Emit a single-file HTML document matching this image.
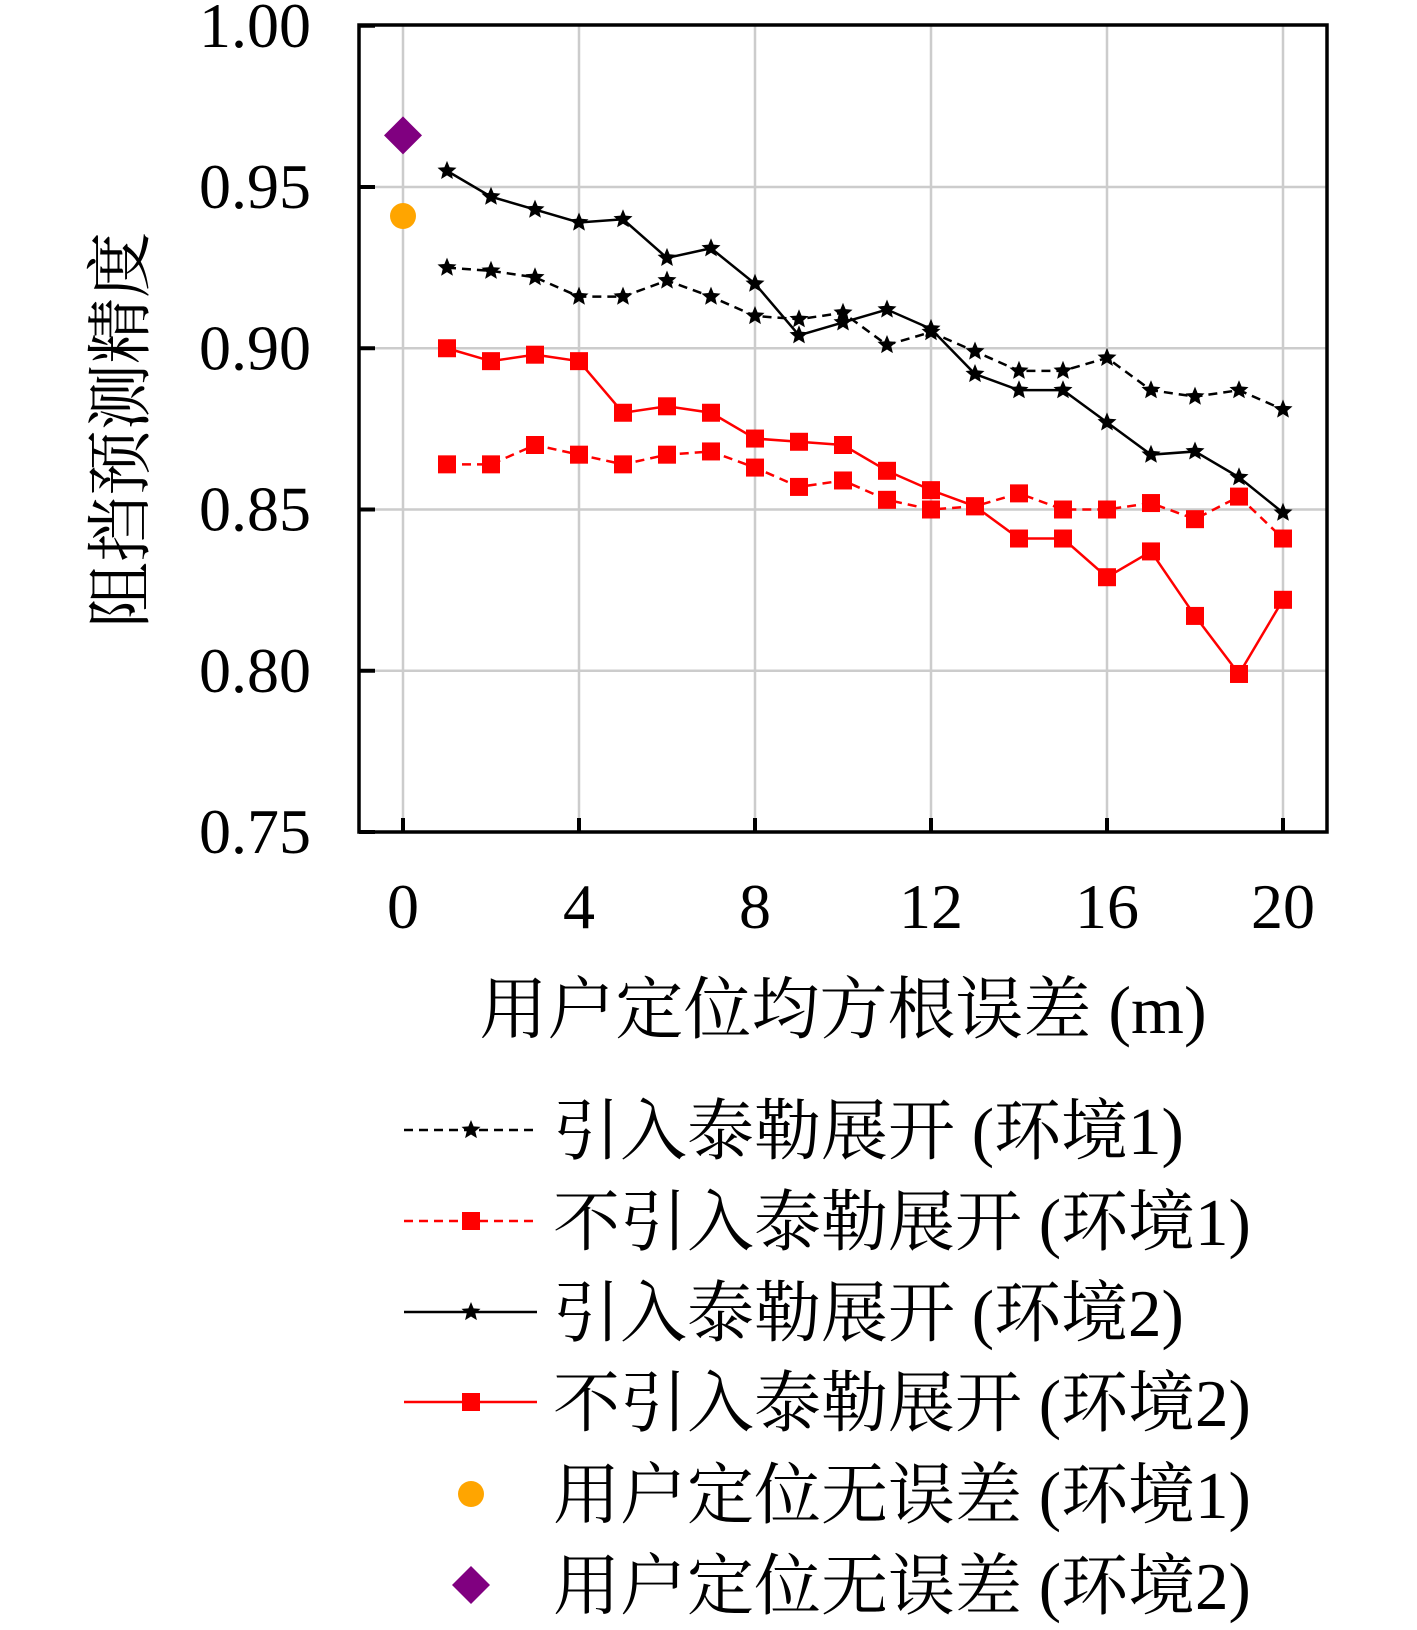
<!DOCTYPE html>
<html><head><meta charset="utf-8"><style>
html,body{margin:0;padding:0;background:#fff;}
svg{display:block;}
text{font-family:"Liberation Serif","Noto Serif CJK SC",serif;fill:#000;}
</style></head><body>
<svg id="s" width="1417" height="1630" xmlns="http://www.w3.org/2000/svg"></svg>
<script>
const s=document.getElementById('s');
const X=v=>403+v*44, Y=v=>832-(v-0.75)/0.05*161.25;
let h='';
for(let i=0;i<=20;i+=4)h+=`<line x1="${X(i)}" y1="25" x2="${X(i)}" y2="832" stroke="#ccc" stroke-width="2.5"/>`;
[0.8,0.85,0.9,0.95].forEach(v=>h+=`<line x1="359" y1="${Y(v)}" x2="1327" y2="${Y(v)}" stroke="#ccc" stroke-width="2.5"/>`);
h+=`<rect x="359" y="25" width="968" height="807" fill="none" stroke="#000" stroke-width="3.5"/>`;
for(let i=0;i<=20;i+=4){h+=`<line x1="${X(i)}" y1="832" x2="${X(i)}" y2="818" stroke="#000" stroke-width="4"/>`;
h+=`<text x="${X(i)}" y="928" font-size="64" text-anchor="middle">${i}</text>`;}
[0.75,0.8,0.85,0.9,0.95,1.0].forEach(v=>{h+=`<line x1="359" y1="${Y(v)}" x2="375" y2="${Y(v)}" stroke="#000" stroke-width="4"/>`;
h+=`<text x="311" y="${Y(v)+21}" font-size="64" text-anchor="end">${v.toFixed(2)}</text>`;});
h+=`<text x="843" y="1033" font-size="68" text-anchor="middle">用户定位均方根误差 (m)</text>`;
h+=`<text transform="translate(143,430) rotate(-90)" font-size="66" text-anchor="middle">阻挡预测精度</text>`;
const d1=[0.925,0.924,0.922,0.916,0.916,0.921,0.916,0.910,0.909,0.911,0.901,0.905,0.899,0.893,0.893,0.897,0.887,0.885,0.887,0.881];
const d2=[0.955,0.947,0.943,0.939,0.940,0.928,0.931,0.920,0.904,0.908,0.912,0.906,0.892,0.887,0.887,0.877,0.867,0.868,0.860,0.849];
const r1=[0.864,0.864,0.870,0.867,0.864,0.867,0.868,0.863,0.857,0.859,0.853,0.850,0.851,0.855,0.850,0.850,0.852,0.847,0.854,0.841];
const r2=[0.900,0.896,0.898,0.896,0.880,0.882,0.880,0.872,0.871,0.870,0.862,0.856,0.851,0.841,0.841,0.829,0.837,0.817,0.799,0.822];
function star(x,y,r){let p=[];for(let k=0;k<10;k++){const a=-Math.PI/2+k*Math.PI/5,rr=k%2?r*0.45:r;p.push((x+rr*Math.cos(a)).toFixed(1)+','+(y+rr*Math.sin(a)).toFixed(1));}return `<polygon points="${p.join(' ')}" fill="#000"/>`;}
function sq(x,y,c){return `<rect x="${x-9}" y="${y-9}" width="18" height="18" fill="${c}"/>`;}
function series(d,c,dash,m){const pts=d.map((v,i)=>X(i+1)+','+Y(v)).join(' ');
h+=`<polyline points="${pts}" fill="none" stroke="${c}" stroke-width="2.5" ${dash?'stroke-dasharray="9,6"':''}/>`;
d.forEach((v,i)=>h+=m=='s'?star(X(i+1),Y(v),10):sq(X(i+1),Y(v),c));}
series(d1,'#000',1,'s');series(r1,'#f00',1,'q');series(d2,'#000',0,'s');series(r2,'#f00',0,'q');
h+=`<circle cx="${X(0)}" cy="${Y(0.941)}" r="13" fill="#ffa500"/>`;
const dy=Y(0.966);h+=`<polygon points="${X(0)},${dy-19} ${X(0)+19},${dy} ${X(0)},${dy+19} ${X(0)-19},${dy}" fill="#800080"/>`;
const L=[['引入泰勒展开 (环境1)','#000',1,'s',1130],['不引入泰勒展开 (环境1)','#f00',1,'q',1221],['引入泰勒展开 (环境2)','#000',0,'s',1312],['不引入泰勒展开 (环境2)','#f00',0,'q',1402],['用户定位无误差 (环境1)','o',0,'o',1494],['用户定位无误差 (环境2)','d',0,'d',1585]];
L.forEach(([t,c,dash,m,y])=>{const cx=471;
if(m=='s'||m=='q'){h+=`<line x1="404" y1="${y}" x2="537" y2="${y}" stroke="${c}" stroke-width="2.5" ${dash?'stroke-dasharray="9,6"':''}/>`;h+=m=='s'?star(cx,y,10):sq(cx,y,c);}
else if(m=='o')h+=`<circle cx="${cx}" cy="${y}" r="13" fill="#ffa500"/>`;
else h+=`<polygon points="${cx},${y-19} ${cx+19},${y} ${cx},${y+19} ${cx-19},${y}" fill="#800080"/>`;
h+=`<text x="553" y="${y+24}" font-size="67">${t}</text>`;});
s.innerHTML=h;
</script>
</body></html>
